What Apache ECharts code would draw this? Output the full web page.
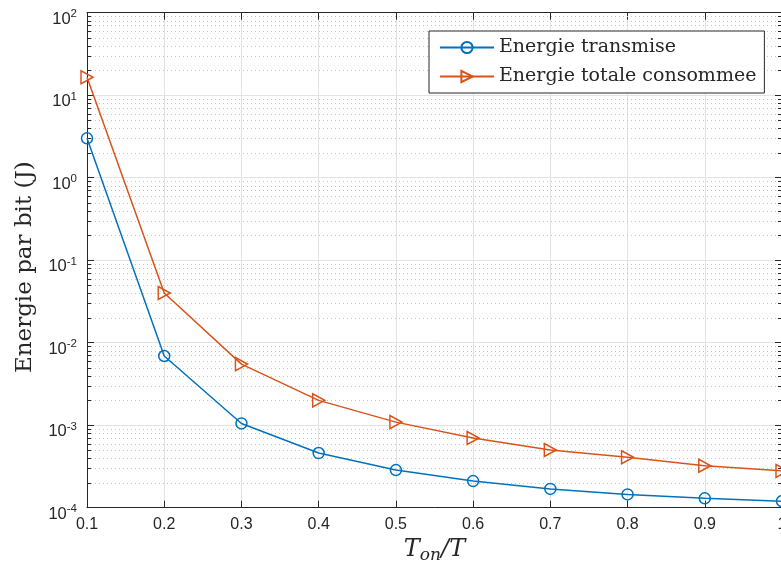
<!DOCTYPE html>
<html><head><meta charset="utf-8">
<script src="https://cdn.jsdelivr.net/npm/echarts@6/dist/echarts.min.js"></script>
<style>html,body{margin:0;padding:0;background:#fff;}#c{width:781px;height:567px;}</style>
</head><body><div id="c"></div>
<script>
const xValues = [0.1, 0.2, 0.3, 0.4, 0.5, 0.6, 0.7, 0.8, 0.9, 1.0];
const energieTransmise = [3.0, 0.0069, 0.00105, 0.00046, 0.000286, 0.00021, 0.000169, 0.000145, 0.00013, 0.00012];
const energieTotale = [16.5, 0.040, 0.0055, 0.0020, 0.00109, 0.00070, 0.00050, 0.000408, 0.000323, 0.000279];
const seriesNames = ['Energie transmise', 'Energie totale consommee'];
const minorLevels = [];
for (let e = -4; e < 2; e++) for (let m = 2; m <= 9; m++) minorLevels.push(m * Math.pow(10, e));

const AX = '#262626';
const SANS = 'Liberation Sans, Arial, sans-serif';
const SERIF = 'DejaVu Serif, serif';
const chart = echarts.init(document.getElementById('c'));
const pair = (xs, ys) => xs.map((x, i) => [x, ys[i]]);

chart.setOption({
  animation: false,
  backgroundColor: '#fff',
  grid: {left: 87, right: -1, top: 12.7, bottom: 59.3, outerBoundsMode: 'none', containLabel: false},
  legend: {
    orient: 'vertical', left: 429, top: 31,
    padding: [5, 8, 5, 10], itemGap: 6, itemWidth: 54, itemHeight: 14,
    borderColor: AX, borderWidth: 1, backgroundColor: '#fff',
    textStyle: {fontFamily: SERIF, fontSize: 19, color: AX, lineHeight: 23},
    data: seriesNames
  },
  xAxis: [{
    type: 'value', min: 0.1, max: 1, interval: 0.1,
    axisLine: {show: true, lineStyle: {color: AX, width: 1}},
    axisTick: {show: true, inside: true, length: 7, lineStyle: {color: AX}},
    axisLabel: {color: AX, fontFamily: SANS, fontSize: 16, margin: 9, hideOverlap: false,
      formatter: v => (Math.round(v * 10) / 10).toString()},
    splitLine: {show: true, lineStyle: {color: '#e3e3e3', width: 1}},
    name: '{i|T}{sub|on}{i|/T}', nameLocation: 'middle', nameGap: 27,
    nameTextStyle: {rich: {
      i: {fontFamily: SERIF, fontStyle: 'italic', fontSize: 24, color: AX},
      sub: {fontFamily: SERIF, fontStyle: 'italic', fontSize: 17, color: AX, padding: [11, 0, 0, 0]}
    }}
  }, {
    type: 'value', min: 0.1, max: 1, interval: 0.1, position: 'top',
    axisLine: {show: true, lineStyle: {color: AX, width: 1}},
    axisTick: {show: true, inside: true, length: 7, lineStyle: {color: AX}},
    axisLabel: {show: false}, splitLine: {show: false}
  }],
  yAxis: [{
    type: 'log', logBase: 10, min: 1e-4, max: 100,
    axisLine: {show: true, lineStyle: {color: AX, width: 1}},
    axisTick: {show: true, inside: true, length: 7, lineStyle: {color: AX}},
    axisLabel: {color: AX, margin: 10, padding: [13, 0, 0, 0],
      formatter: v => '{b|10}{s|' + Math.round(Math.log10(v)) + '}',
      rich: {
        b: {fontFamily: SANS, fontSize: 16.5, color: AX},
        s: {fontFamily: SANS, fontSize: 11.5, color: AX, padding: [0, 0, 10, 0]}
      }},
    splitLine: {show: true, lineStyle: {color: '#e3e3e3', width: 1}},
    name: 'Energie par bit (J)', nameLocation: 'middle', nameGap: 50,
    nameTextStyle: {fontFamily: SERIF, fontSize: 23, color: AX, padding: [0, 14, 0, 0]}
  }, {
    type: 'log', logBase: 10, min: 1e-4, max: 100, position: 'right',
    axisLine: {show: true, lineStyle: {color: AX, width: 1}},
    axisTick: {show: true, inside: true, length: 7, lineStyle: {color: AX}},
    axisLabel: {show: false}, splitLine: {show: false}
  }],
  series: [{
    type: 'custom', silent: true, z: 1, xAxisIndex: 0, yAxisIndex: 0,
    data: minorLevels.map(v => [0.1, v]),
    renderItem: (params, api) => {
      const cs = params.coordSys;
      const y = Math.round(api.coord([0.1, api.value(1)])[1]) + 0.5;
      return {type: 'group', children: [
        {type: 'line', shape: {x1: cs.x, y1: y, x2: cs.x + cs.width, y2: y},
          style: {stroke: '#c4c4c4', lineWidth: 1, lineDash: [1, 3]}},
        {type: 'line', shape: {x1: cs.x, y1: y, x2: cs.x + 4, y2: y},
          style: {stroke: AX, lineWidth: 1}},
        {type: 'line', shape: {x1: cs.x + cs.width - 4, y1: y, x2: cs.x + cs.width, y2: y},
          style: {stroke: AX, lineWidth: 1}}
      ]};
    }
  }, {
    name: seriesNames[0], type: 'line', z: 3,
    data: pair(xValues, energieTransmise),
    symbol: 'circle', symbolSize: 11,
    lineStyle: {color: '#0072BD', width: 1.5},
    itemStyle: {color: 'rgba(255,255,255,0)', borderColor: '#0072BD', borderWidth: 1.5},
    clip: false
  }, {
    name: seriesNames[1], type: 'line', z: 3,
    data: pair(xValues, energieTotale),
    symbol: 'triangle', symbolSize: [13, 12], symbolRotate: -90,
    lineStyle: {color: '#D95319', width: 1.5},
    itemStyle: {color: 'rgba(255,255,255,0)', borderColor: '#D95319', borderWidth: 1.5},
    clip: false
  }]
});
</script></body></html>
